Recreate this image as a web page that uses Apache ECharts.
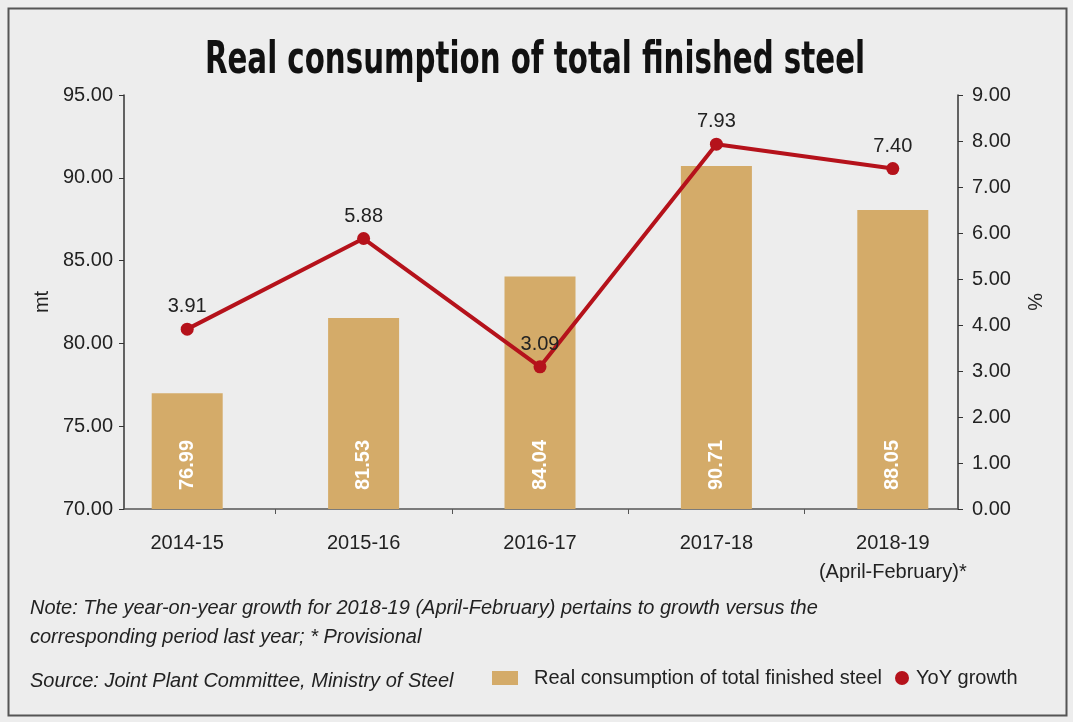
<!DOCTYPE html>
<html>
<head>
<meta charset="utf-8">
<script src="https://cdn.jsdelivr.net/npm/echarts@6/dist/echarts.min.js"></script>
<style>
  html, body { margin: 0; padding: 0; background: #ededed; }
  #show_picture { width: 1073px; height: 722px; }
</style>
</head>
<body>
<div id="show_picture"></div>
<script>
const years = ['2014-15', '2015-16', '2016-17', '2017-18', '2018-19\n(April-February)*'];
const consumption = [76.99, 81.53, 84.04, 90.71, 88.05];
const yoyGrowth = [3.91, 5.88, 3.09, 7.93, 7.40];
const leftTicks = { min: 70, max: 95, step: 5 };
const rightTicks = { min: 0, max: 9, step: 1 };

const barName = 'Real consumption of total finished steel';
const lineName = 'YoY growth';

// the category bands run wider than the two value axes, so the axes sit inside the grid
const gridL = 99, gridR = 92, insetL = 25, insetR = 23;
const band = (1073 - gridL - gridR) / years.length;

const font = "'Liberation Sans', Arial, sans-serif";
const titleFont = "'DejaVu Sans Condensed', 'Liberation Sans', sans-serif";

let myChart = echarts.init(document.getElementById('show_picture'));
let option = {
    backgroundColor: '#ededed',
    textStyle: { fontFamily: font },
    legend: [
        {
            data: [{ name: barName, icon: 'rect' }],
            left: 487,
            top: 663,
            itemWidth: 26,
            itemHeight: 14,
            textStyle: { fontSize: 20, color: '#222', padding: [0, 0, 0, 11] }
        },
        {
            data: [{ name: lineName, icon: 'circle' }],
            left: 890,
            top: 663,
            itemWidth: 14,
            itemHeight: 14,
            textStyle: { fontSize: 20, color: '#222', padding: [0, 0, 0, 2] }
        }
    ],
    graphic: [
        {
            type: 'rect', left: 6, top: 6, z: -1,
            shape: { width: 1058, height: 707 },
            style: { fill: 'none', stroke: '#555', lineWidth: 2 }
        },
        {
            // heavy condensed headline
            type: 'text', x: 535, y: 62, scaleX: 0.74,
            style: {
                text: 'Real consumption of total finished steel',
                font: 'bold 44px ' + titleFont, fill: '#111',
                textAlign: 'center', textVerticalAlign: 'middle'
            }
        },
        {
            type: 'text', left: 30, top: 594,
            style: {
                text: 'Note: The year-on-year growth for 2018-19 (April-February) pertains to growth versus the\ncorresponding period last year; * Provisional',
                font: 'italic 20px ' + font, fill: '#222', lineHeight: 29
            }
        },
        {
            type: 'text', left: 30, top: 671,
            style: { text: 'Source: Joint Plant Committee, Ministry of Steel', font: 'italic 20px ' + font, fill: '#222' }
        }
    ],
    grid: [
        { left: gridL, right: gridR, top: 95, bottom: 213, outerBoundsMode: 'none' },
        { left: gridL + insetL, right: gridR + insetR, top: 95, bottom: 213, outerBoundsMode: 'none' }
    ],
    xAxis: [
        {
            type: 'category',
            data: years,
            gridIndex: 0,
            axisLine: { show: false },
            axisTick: { show: false },
            axisLabel: { interval: 0, fontSize: 20, color: '#222', margin: 20, lineHeight: 29 }
        },
        {
            // plain baseline between the two value axes, ticks on the band edges
            type: 'value',
            gridIndex: 1,
            min: insetL / band,
            max: years.length - insetR / band,
            axisLine: { show: true, lineStyle: { color: '#555', width: 1.5 } },
            axisTick: { show: true, customValues: [1, 2, 3, 4], length: 5, lineStyle: { color: '#555' } },
            axisLabel: { show: false },
            splitLine: { show: false }
        }
    ],
    yAxis: [
        {
            type: 'value',
            gridIndex: 0,
            min: leftTicks.min,
            max: leftTicks.max,
            interval: leftTicks.step,
            offset: -insetL,
            name: 'mt',
            nameLocation: 'middle',
            nameGap: 72,
            nameTextStyle: { fontSize: 20, color: '#222' },
            axisLine: { show: true, lineStyle: { color: '#333', width: 1.5 } },
            axisTick: { show: true, length: 5, lineStyle: { color: '#333' } },
            axisLabel: { fontSize: 20, color: '#222', margin: 11, formatter: v => v.toFixed(2) },
            splitLine: { show: false }
        },
        {
            type: 'value',
            gridIndex: 0,
            position: 'right',
            min: rightTicks.min,
            max: rightTicks.max,
            interval: rightTicks.step,
            offset: -insetR,
            name: '%',
            nameLocation: 'middle',
            nameGap: 66,
            nameRotate: -90,
            nameTextStyle: { fontSize: 20, color: '#222' },
            axisLine: { show: true, lineStyle: { color: '#333', width: 1.5 } },
            axisTick: { show: true, length: 5, lineStyle: { color: '#333' } },
            axisLabel: { fontSize: 20, color: '#222', margin: 14, formatter: v => v.toFixed(2) },
            splitLine: { show: false }
        },
        { type: 'value', gridIndex: 1, show: false }
    ],
    series: [
        {
            name: barName,
            type: 'bar',
            data: consumption,
            barWidth: 71,
            itemStyle: { color: '#d4ab69' },
            label: {
                show: true,
                position: 'insideBottom',
                distance: 19,
                rotate: 90,
                align: 'left',
                verticalAlign: 'middle',
                fontSize: 20,
                fontWeight: 'bold',
                color: '#fff',
                formatter: p => p.value.toFixed(2)
            }
        },
        {
            name: lineName,
            type: 'line',
            yAxisIndex: 1,
            data: yoyGrowth,
            symbol: 'circle',
            symbolSize: 13,
            lineStyle: { color: '#b5121b', width: 4 },
            itemStyle: { color: '#b5121b' },
            label: {
                show: true,
                position: 'top',
                distance: 6,
                fontSize: 20,
                color: '#222',
                formatter: p => p.value.toFixed(2)
            }
        }
    ]
};

option && myChart.setOption(option);
</script>
</body>
</html>
